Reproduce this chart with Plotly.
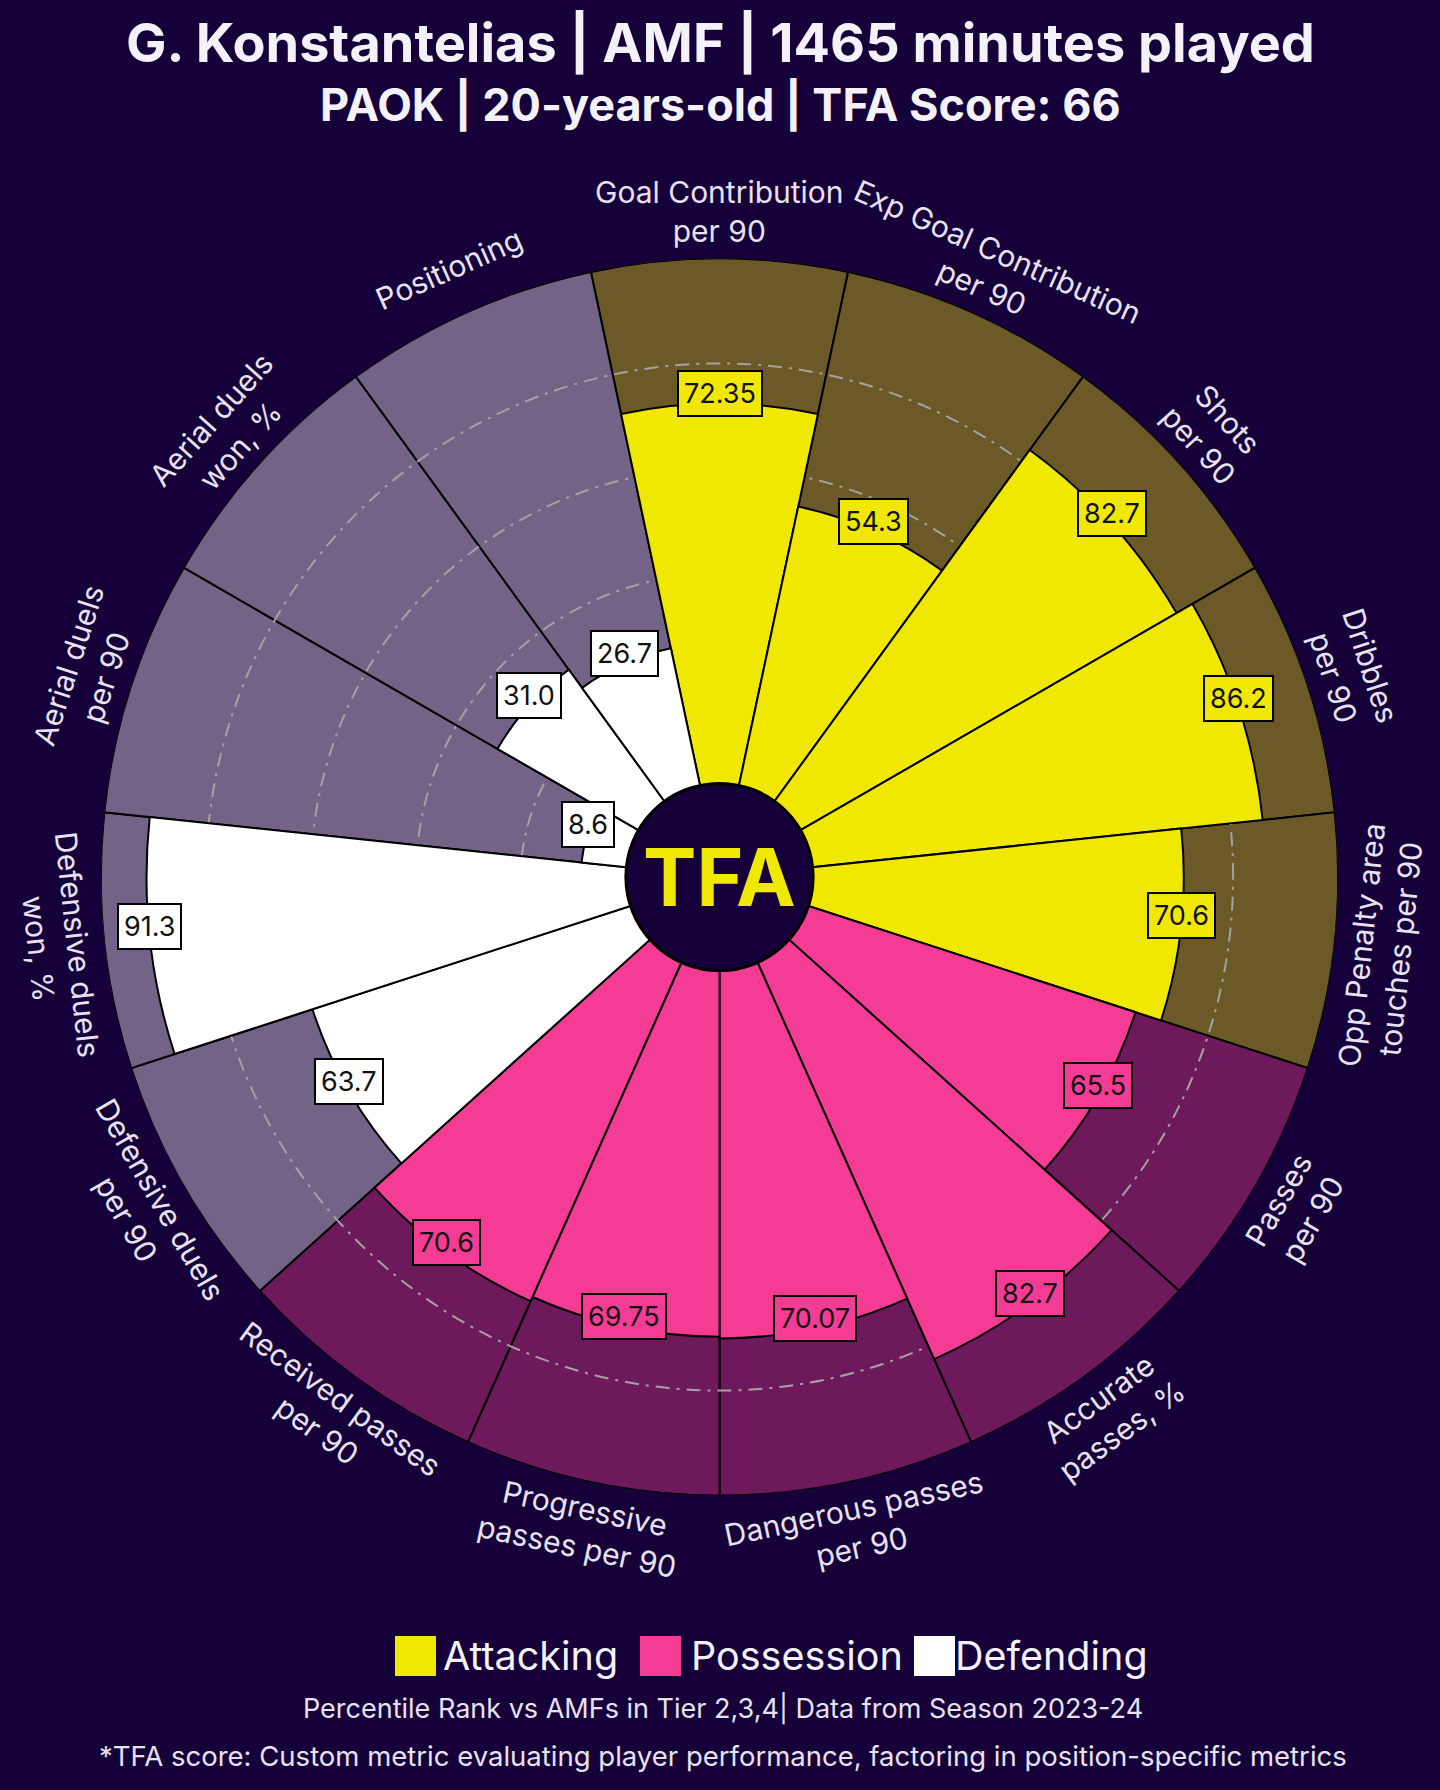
import math
import plotly.graph_objects as go

# ---------------- data ----------------
categories = [
    "Goal Contribution<br>per 90",
    "Exp Goal Contribution<br>per 90",
    "Shots<br>per 90",
    "Dribbles<br>per 90",
    "Opp Penalty area<br>touches per 90",
    "Passes<br>per 90",
    "Accurate<br>passes, %",
    "Dangerous passes<br>per 90",
    "Progressive<br>passes per 90",
    "Received passes<br>per 90",
    "Defensive duels<br>per 90",
    "Defensive duels<br>won, %",
    "Aerial duels<br>per 90",
    "Aerial duels<br>won, %",
    "Positioning",
]
values = [72.35, 54.3, 82.7, 86.2, 70.6, 65.5, 82.7, 70.07, 69.75, 70.6, 63.7, 91.3, 8.6, 31.0, 26.7]
groups = ["Attacking"] * 5 + ["Possession"] * 5 + ["Defending"] * 5
group_names = ["Attacking", "Possession", "Defending"]
grid_ticks = [20, 40, 60, 80]

title_line1 = "G. Konstantelias | AMF | 1465 minutes played"
title_line2 = "PAOK | 20-years-old | TFA Score: 66"
footer1 = "Percentile Rank vs AMFs in Tier 2,3,4| Data from Season 2023-24"
footer2 = "*TFA score: Custom metric evaluating player performance, factoring in position-specific metrics"

# ---------------- style ----------------
BG = "#150039"
fg_colors = {"Attacking": "#f0e800", "Possession": "#f53c95", "Defending": "#ffffff"}
bg_colors = {"Attacking": "#6b5a28", "Possession": "#6d195c", "Defending": "#736487"}
LABEL_COLOR = "#e8e2f0"
FONT = "Inter"

W, H = 1440, 1790
CX, CY = 719.5, 877.0          # centre in px (from top-left)
R_OUT = 618.6                  # outer radius px
R_HOLE = 93.6                  # hole radius px
HOLE = R_HOLE / R_OUT
VALUE_LABEL_LIFT = 10          # px upward nudge of value boxes

n = len(categories)
step = 360 / n
thetas = [i * step for i in range(n)]

dom_x = [(CX - R_OUT) / W, (CX + R_OUT) / W]
dom_y = [(H - CY - R_OUT) / H, (H - CY + R_OUT) / H]


def px_to_paper(x, y):
    return x / W, 1 - y / H


def polar_px(theta_deg, r_px):
    t = math.radians(theta_deg)
    return CX + r_px * math.sin(t), CY - r_px * math.cos(t)


fig = go.Figure()

# background (100%) bars in polar
fig.add_trace(go.Barpolar(
    r=[100] * n, theta=thetas, width=[step] * n,
    marker=dict(color=[bg_colors[g] for g in groups], line=dict(color="#000000", width=2)),
    subplot="polar", showlegend=False, hoverinfo="skip",
))

# value bars in polar2 (above the dash-dot grid)
for g in group_names:
    idx = [i for i in range(n) if groups[i] == g]
    fig.add_trace(go.Barpolar(
        r=[values[i] for i in idx], theta=[thetas[i] for i in idx], width=[step] * len(idx),
        marker=dict(color=fg_colors[g], line=dict(color="#000000", width=2)),
        subplot="polar2", name=g, showlegend=False,
    ))

angular = dict(rotation=90, direction="clockwise", showgrid=False, showticklabels=False,
               ticks="", showline=False)

annotations = []
shapes = []

# category labels
R_LABEL = 665
for th, lab in zip(thetas, categories):
    x, y = polar_px(th, R_LABEL)
    ang = th if (th <= 90 or th >= 270) else th - 180
    if ang > 180:
        ang -= 360
    xp, yp = px_to_paper(x, y)
    annotations.append(dict(
        x=xp, y=yp, xref="paper", yref="paper", text=lab, showarrow=False,
        textangle=ang, font=dict(family=FONT, size=30, color=LABEL_COLOR),
        xanchor="center", yanchor="middle", align="center",
    ))

# value labels
for th, v, g in zip(thetas, values, groups):
    r_px = R_HOLE + v / 100 * (R_OUT - R_HOLE)
    x, y = polar_px(th, r_px)
    xp, yp = px_to_paper(x, y - VALUE_LABEL_LIFT)
    annotations.append(dict(
        x=xp, y=yp, xref="paper", yref="paper", text=f"{v}", showarrow=False,
        font=dict(family=FONT, size=27, color="#111111"),
        bgcolor=fg_colors[g], bordercolor="#000000", borderwidth=2, borderpad=5,
        xanchor="center", yanchor="middle",
    ))

# centre logo
shapes.append(dict(type="circle", xref="paper", yref="paper",
                   x0=(CX - R_HOLE) / W, x1=(CX + R_HOLE) / W,
                   y0=1 - (CY + R_HOLE) / H, y1=1 - (CY - R_HOLE) / H,
                   fillcolor=BG, line=dict(color="#000000", width=3), layer="above"))
annotations.append(dict(x=CX / W, y=1 - CY / H, xref="paper", yref="paper", text="<b>TFA</b>",
                        showarrow=False, font=dict(family=FONT, size=80, color="#f0e800"),
                        xanchor="center", yanchor="middle"))

# titles
annotations.append(dict(x=0.5, y=1 - 43 / H, xref="paper", yref="paper", text=f"<b>{title_line1}</b>",
                        showarrow=False, font=dict(family=FONT, size=54, color="#f4f2f8"),
                        xanchor="center", yanchor="middle"))
annotations.append(dict(x=0.5, y=1 - 104 / H, xref="paper", yref="paper", text=f"<b>{title_line2}</b>",
                        showarrow=False, font=dict(family=FONT, size=45, color="#f4f2f8"),
                        xanchor="center", yanchor="middle"))

# legend (custom squares)
leg_items = [("Attacking", 395, 441), ("Possession", 640, 689), ("Defending", 914, 953)]
LEG_Y = 1656
for name, sx, tx in leg_items:
    shapes.append(dict(type="rect", xref="paper", yref="paper",
                       x0=sx / W, x1=(sx + 41) / W, y0=1 - (LEG_Y + 20) / H, y1=1 - (LEG_Y - 20) / H,
                       fillcolor=fg_colors[name], line=dict(width=0)))
    annotations.append(dict(x=tx / W, y=1 - LEG_Y / H, xref="paper", yref="paper", text=name,
                            showarrow=False, font=dict(family=FONT, size=39.5, color="#f4f2f8"),
                            xanchor="left", yanchor="middle"))

annotations.append(dict(x=0.502, y=1 - 1708 / H, xref="paper", yref="paper", text=footer1,
                        showarrow=False, font=dict(family=FONT, size=27, color="#e8e2f0"),
                        xanchor="center", yanchor="middle"))
annotations.append(dict(x=0.502, y=1 - 1756 / H, xref="paper", yref="paper", text=footer2,
                        showarrow=False, font=dict(family=FONT, size=27.5, color="#e8e2f0"),
                        xanchor="center", yanchor="middle"))

fig.update_layout(
    width=W, height=H,
    paper_bgcolor=BG, plot_bgcolor=BG,
    margin=dict(l=0, r=0, t=0, b=0),
    showlegend=False,
    polar=dict(
        domain=dict(x=dom_x, y=dom_y), hole=HOLE, bgcolor="rgba(0,0,0,0)", barmode="overlay",
        radialaxis=dict(range=[0, 100], showticklabels=False, ticks="", showline=False, showgrid=False),
        angularaxis=angular,
    ),
    polar2=dict(
        domain=dict(x=dom_x, y=dom_y), hole=HOLE, bgcolor="rgba(0,0,0,0)", barmode="overlay",
        radialaxis=dict(range=[0, 100], showticklabels=False, ticks="", showline=False,
                        showgrid=True, tickvals=grid_ticks, gridcolor="#a3a3a3",
                        griddash="14px,7px,3px,7px", gridwidth=2),
        angularaxis=angular,
    ),
    annotations=annotations,
    shapes=shapes,
)

fig.write_html(
    "out.html",
    config={"displayModeBar": False},
    post_script="document.body.style.margin='0';document.body.style.background='" + BG + "';",
)
